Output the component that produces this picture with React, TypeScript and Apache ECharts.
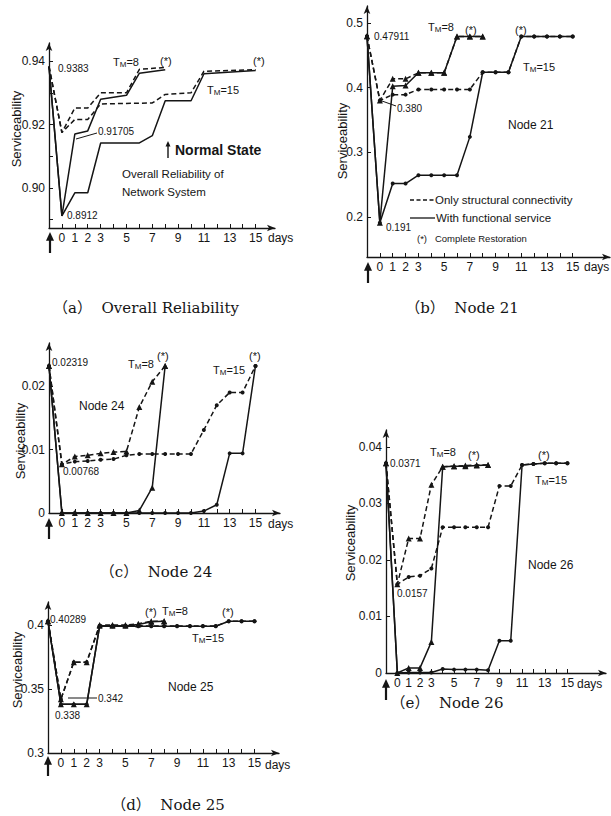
import { useEffect, useRef } from "react";
import * as echarts from "echarts";

// ---------- shared axis ticks ----------
const X_LABEL_DAYS = [0, 1, 2, 3, 5, 7, 9, 11, 13, 15];
const X_TICK_DAYS = [0, 1, 2, 3, 4, 5, 6, 7, 8, 9, 10, 11, 12, 13, 14, 15];

// ---------- (a) Overall Reliability ----------
const A_DAYS_8 = [-1, 0, 1, 2, 3, 5, 6, 8];
const A_STRUCT_8 = [0.9383, 0.9175, 0.9252, 0.9252, 0.93, 0.93, 0.9374, 0.938];
const A_FUNC_8 = [0.9383, 0.8912, 0.9170, 0.918, 0.9280, 0.9292, 0.9362, 0.9373];
const A_DAYS_15_S = [-1, 0, 1, 2, 3, 7, 8, 10, 11, 15];
const A_STRUCT_15 = [0.9383, 0.9175, 0.9216, 0.9216, 0.9265, 0.9268, 0.9295, 0.93, 0.9368, 0.9373];
const A_DAYS_15_F = [-1, 0, 1, 2, 3, 6, 7, 8, 10, 11, 15];
const A_FUNC_15 = [0.9383, 0.8912, 0.8985, 0.8985, 0.9142, 0.9142, 0.9165, 0.9275, 0.9275, 0.936, 0.937];
const A_Y_LABELS = [0.9, 0.92, 0.94];
const A_Y_TICKS = [0.89, 0.9, 0.91, 0.92, 0.93, 0.94];

// ---------- (b) Node 21 ----------
const B_DAYS_8 = [-1, 0, 1, 2, 3, 4, 5, 6, 7, 8];
const B_STRUCT_8 = [0.47911, 0.38, 0.4134, 0.4134, 0.4227, 0.4227, 0.4227, 0.479, 0.479, 0.479];
const B_FUNC_8 = [0.47911, 0.191, 0.402, 0.403, 0.4227, 0.4227, 0.4227, 0.479, 0.479, 0.479];
const B_DAYS_15 = [-1, 0, 1, 2, 3, 4, 5, 6, 7, 8, 9, 10, 11, 12, 13, 14, 15];
const B_STRUCT_15 = [0.47911, 0.38, 0.389, 0.389, 0.397, 0.397, 0.397, 0.397, 0.397, 0.4236, 0.4236, 0.4236, 0.479, 0.479, 0.479, 0.479, 0.479];
const B_FUNC_15 = [0.47911, 0.191, 0.2516, 0.2516, 0.2645, 0.2645, 0.2645, 0.2645, 0.3237, 0.4236, 0.4236, 0.4236, 0.479, 0.479, 0.479, 0.479, 0.479];
const B_Y_LABELS = [0.2, 0.3, 0.4, 0.5];

// ---------- (c) Node 24 ----------
const C_DAYS_8 = [-1, 0, 1, 2, 3, 4, 5, 6, 7, 8];
const C_STRUCT_8 = [0.02319, 0.00768, 0.0089, 0.0091, 0.0094, 0.0096, 0.0097, 0.0167, 0.0207, 0.02319];
const C_FUNC_8 = [0.02319, 0, 0, 0, 0, 0, 0, 0.0004, 0.004, 0.02319];
const C_DAYS_15 = [-1, 0, 1, 2, 3, 4, 5, 6, 7, 8, 9, 10, 11, 12, 13, 14, 15];
const C_STRUCT_15 = [0.02319, 0.00768, 0.0081, 0.0082, 0.0084, 0.0085, 0.0091, 0.0093, 0.0093, 0.0093, 0.0093, 0.0093, 0.0131, 0.017, 0.019, 0.019, 0.02319];
const C_FUNC_15 = [0.02319, 0, 0, 0, 0, 0, 0, 0, 0, 0, 0, 0, 0.0003, 0.0013, 0.0094, 0.0094, 0.02319];
const C_Y_LABELS = [0, 0.01, 0.02];

// ---------- (d) Node 25 ----------
const D_DAYS_8 = [-1, 0, 1, 2, 3, 4, 5, 6, 7, 8];
const D_STRUCT_8 = [0.40289, 0.342, 0.371, 0.371, 0.4, 0.4, 0.4, 0.401, 0.4029, 0.4029];
const D_FUNC_8 = [0.40289, 0.338, 0.338, 0.338, 0.3995, 0.3995, 0.3995, 0.4005, 0.4025, 0.4029];
const D_DAYS_15 = [-1, 0, 1, 2, 3, 4, 5, 6, 7, 8, 9, 10, 11, 12, 13, 14, 15];
const D_STRUCT_15 = [0.40289, 0.342, 0.371, 0.371, 0.3995, 0.3995, 0.3995, 0.3995, 0.3992, 0.3992, 0.3992, 0.3992, 0.3992, 0.3992, 0.4029, 0.4029, 0.4029];
const D_FUNC_15 = [0.40289, 0.338, 0.338, 0.338, 0.399, 0.399, 0.399, 0.399, 0.399, 0.399, 0.399, 0.399, 0.399, 0.399, 0.4029, 0.4029, 0.4029];
const D_Y_LABELS = [0.3, 0.35, 0.4];

// ---------- (e) Node 26 ----------
const E_DAYS_8 = [-1, 0, 1, 2, 3, 4, 5, 6, 7, 8];
const E_STRUCT_8 = [0.0371, 0.0157, 0.0238, 0.0238, 0.0333, 0.0365, 0.0366, 0.0367, 0.0368, 0.0368];
const E_FUNC_8 = [0.0371, 0, 0.0009, 0.0009, 0.0055, 0.0365, 0.0366, 0.0366, 0.0367, 0.0368];
const E_DAYS_15 = [-1, 0, 1, 2, 3, 4, 5, 6, 7, 8, 9, 10, 11, 12, 13, 14, 15];
const E_STRUCT_15 = [0.0371, 0.0157, 0.017, 0.0172, 0.0185, 0.0258, 0.0258, 0.0258, 0.0258, 0.0258, 0.0331, 0.0331, 0.0368, 0.037, 0.0371, 0.0371, 0.0371];
const E_FUNC_15 = [0.0371, 0, 0.0001, 0.0001, 0.0001, 0.0007, 0.0006, 0.0006, 0.0006, 0.0005, 0.0057, 0.0057, 0.0368, 0.037, 0.0371, 0.0371, 0.0371];
const E_Y_LABELS = [0, 0.01, 0.02, 0.03, 0.04];

const CAPTIONS = ["（a）  Overall Reliability", "（b）  Node 21", "（c）  Node 24", "（d）  Node 25", "（e）  Node 26"];

const INK = "#151515";
const SANS = "'Liberation Sans', Arial, 'DejaVu Sans', sans-serif";
const SERIF = "'DejaVu Serif', 'Noto Sans CJK JP', serif";

// layout of the five plot frames (pixels) and their axis ranges
const FRAMES = [
  { left: 49, top: 43, width: 226, height: 185, xMax: 16.5, yMin: 0.8874, yMax: 0.9457 },
  { left: 367, top: 6, width: 243, height: 251, xMax: 17.9, yMin: 0.138, yMax: 0.526 },
  { left: 49, top: 343, width: 231, height: 170, xMax: 16.9, yMin: 0, yMax: 0.0268 },
  { left: 48, top: 602, width: 231, height: 151, xMax: 16.9, yMin: 0.3, yMax: 0.418 },
  { left: 386, top: 430, width: 220, height: 243, xMax: 18.4, yMin: 0, yMax: 0.043 },
];

const Y_LABELS = [A_Y_LABELS, B_Y_LABELS, C_Y_LABELS, D_Y_LABELS, E_Y_LABELS];
const Y_TICKS = [A_Y_TICKS, B_Y_LABELS, C_Y_LABELS, D_Y_LABELS, E_Y_LABELS];
const Y_FMT = [
  (v: number) => v.toFixed(2),
  (v: number) => v.toFixed(1),
  (v: number) => (v === 0 ? "0" : v.toFixed(2)),
  (v: number) => (Math.abs(v - 0.35) < 1e-9 ? "0.35" : v.toFixed(1)),
  (v: number) => (v === 0 ? "0" : v.toFixed(2)),
];

function pairs(days: number[], vals: number[]) {
  return days.map((d, i) => [d, vals[i]]);
}

function line(g: number, days: number[], vals: number[], dashed: boolean, symbol: string) {
  return {
    type: "line",
    xAxisIndex: g,
    yAxisIndex: g,
    data: pairs(days, vals),
    symbol,
    symbolSize: symbol === "triangle" ? 6 : 4,
    showSymbol: symbol !== "none",
    itemStyle: { color: INK },
    lineStyle: { color: INK, width: 1.5, type: dashed ? [5, 3] : "solid" },
    z: dashed ? 3 : 4,
    silent: true,
  };
}

function txt(x: number, y: number, text: string, size = 10, extra: any = {}) {
  return {
    type: "text",
    x,
    y,
    silent: true,
    style: {
      text,
      fill: INK,
      fontSize: size,
      fontFamily: SANS,
      align: "left",
      verticalAlign: "middle",
      textAlign: "left",
      textVerticalAlign: "middle",
      ...extra,
    },
  };
}

function tm(x: number, y: number, n: number) {
  return {
    type: "text",
    x,
    y,
    silent: true,
    style: {
      text: `{t|T}{s|M}{t|=${n}}`,
      align: "left",
      verticalAlign: "middle",
      textAlign: "left",
      textVerticalAlign: "middle",
      rich: {
        t: { fontSize: 11, fontFamily: SANS, fill: INK },
        s: { fontSize: 8, fontFamily: SANS, fill: INK, padding: [5, 0, 0, 0] },
      },
    },
  };
}

function vtitle(x: number, y: number) {
  return {
    type: "text",
    x,
    y,
    rotation: Math.PI / 2,
    silent: true,
    style: {
      text: "Serviceability",
      fill: INK,
      fontSize: 13,
      fontFamily: SANS,
      align: "center",
      verticalAlign: "middle",
      textAlign: "center",
      textVerticalAlign: "middle",
    },
  };
}

function upArrow(x: number, yTop: number, yBot: number, w = 2.2, head = 4) {
  return [
    { type: "line", silent: true, shape: { x1: x, y1: yBot, x2: x, y2: yTop + head * 1.5 }, style: { stroke: INK, lineWidth: w } },
    {
      type: "polygon",
      silent: true,
      shape: { points: [[x, yTop], [x - head, yTop + head * 2.2], [x + head, yTop + head * 2.2]] },
      style: { fill: INK },
    },
  ];
}

function seg(x1: number, y1: number, x2: number, y2: number, dash: number[] | null = null, w = 1) {
  return {
    type: "line",
    silent: true,
    shape: { x1, y1, x2, y2 },
    style: { stroke: INK, lineWidth: w, lineDash: dash || undefined },
  };
}

function caption(cx: number, cy: number, text: string) {
  return {
    type: "text",
    x: cx,
    y: cy,
    silent: true,
    style: {
      text,
      fill: INK,
      fontSize: 15,
      fontFamily: SERIF,
      align: "center",
      verticalAlign: "middle",
      textAlign: "center",
      textVerticalAlign: "middle",
    },
  };
}

function buildOption() {
  const grid = FRAMES.map((f) => ({ left: f.left, top: f.top, width: f.width, height: f.height, containLabel: false }));
  const xAxis = FRAMES.map((f, i) => ({
    type: "value",
    gridIndex: i,
    min: -1,
    max: f.xMax,
    splitLine: { show: false },
    axisLine: { onZero: false, lineStyle: { color: INK, width: 1.3 }, symbol: ["none", "arrow"], symbolSize: [5, 8] },
    axisTick: { show: true, inside: true, length: 4, lineStyle: { color: INK }, customValues: X_TICK_DAYS },
    axisLabel: {
      color: INK,
      fontSize: 12,
      fontFamily: SANS,
      margin: 4,
      customValues: X_LABEL_DAYS,
      formatter: (v: number) => String(v),
    },
  }));
  const yAxis = FRAMES.map((f, i) => ({
    type: "value",
    gridIndex: i,
    min: f.yMin,
    max: f.yMax,
    splitLine: { show: false },
    axisLine: { onZero: false, lineStyle: { color: INK, width: 1.3 }, symbol: ["none", "arrow"], symbolSize: [5, 8] },
    axisTick: { show: true, inside: true, length: 4, lineStyle: { color: INK }, customValues: Y_TICKS[i] },
    axisLabel: {
      color: INK,
      fontSize: 12,
      fontFamily: SANS,
      margin: 4,
      customValues: Y_LABELS[i],
      formatter: Y_FMT[i],
    },
  }));

  const series = [
    line(0, A_DAYS_8, A_STRUCT_8, true, "none"),
    line(0, A_DAYS_8, A_FUNC_8, false, "none"),
    line(0, A_DAYS_15_S, A_STRUCT_15, true, "none"),
    line(0, A_DAYS_15_F, A_FUNC_15, false, "none"),

    line(1, B_DAYS_8, B_STRUCT_8, true, "triangle"),
    line(1, B_DAYS_8, B_FUNC_8, false, "triangle"),
    line(1, B_DAYS_15, B_STRUCT_15, true, "circle"),
    line(1, B_DAYS_15, B_FUNC_15, false, "circle"),

    line(2, C_DAYS_8, C_STRUCT_8, true, "triangle"),
    line(2, C_DAYS_8, C_FUNC_8, false, "triangle"),
    line(2, C_DAYS_15, C_STRUCT_15, true, "circle"),
    line(2, C_DAYS_15, C_FUNC_15, false, "circle"),

    line(3, D_DAYS_8, D_STRUCT_8, true, "triangle"),
    line(3, D_DAYS_8, D_FUNC_8, false, "triangle"),
    line(3, D_DAYS_15, D_STRUCT_15, true, "circle"),
    line(3, D_DAYS_15, D_FUNC_15, false, "circle"),

    line(4, E_DAYS_8, E_STRUCT_8, true, "triangle"),
    line(4, E_DAYS_8, E_FUNC_8, false, "triangle"),
    line(4, E_DAYS_15, E_STRUCT_15, true, "circle"),
    line(4, E_DAYS_15, E_FUNC_15, false, "circle"),
  ];

  const g: any[] = [];
  // y-axis titles
  g.push(vtitle(16, 129), vtitle(342, 141), vtitle(20, 441), vtitle(17, 670), vtitle(350, 543));
  // "days"
  g.push(txt(268, 238, "days", 12), txt(584, 267, "days", 12), txt(268, 524, "days", 12), txt(265, 765, "days", 12), txt(577, 684, "days", 12));
  // event arrows under the origin
  g.push(...upArrow(50, 232, 253), ...upArrow(368, 262, 283), ...upArrow(49, 518, 539), ...upArrow(48, 756, 776), ...upArrow(386, 679, 700));
  // captions
  g.push(caption(146, 308, CAPTIONS[0]), caption(462, 308, CAPTIONS[1]), caption(156, 572, CAPTIONS[2]), caption(168, 805, CAPTIONS[3]), caption(447, 703, CAPTIONS[4]));

  // (a)
  g.push(txt(58, 68, "0.9383"), tm(113, 62, 8), txt(160, 61, "(*)", 11), txt(253, 61, "(*)", 11), tm(207, 90, 15));
  g.push(txt(98, 131, "0.91705"), seg(97, 133, 76, 139));
  g.push(...upArrow(168, 141, 158, 1.4, 2.5), txt(175, 150, "Normal State", 14, { fontWeight: "bold" }));
  g.push(txt(122, 174, "Overall Reliability of", 11.5), txt(122, 192, "Network System", 11.5));
  g.push(txt(67, 215, "0.8912"));

  // (b)
  g.push(txt(374, 36, "0.47911"), tm(428, 27, 8), txt(465, 30, "(*)", 11), txt(515, 30, "(*)", 11), tm(523, 67, 15));
  g.push(txt(397, 108, "0.380"), seg(396, 106, 382, 101));
  g.push(txt(508, 125, "Node 21", 12));
  g.push(txt(386, 227, "0.191"));
  g.push(seg(410, 200, 434, 200, [4, 2.5], 1.3), txt(435, 200, "Only structural connectivity", 11.5));
  g.push(seg(410, 218, 435, 218, null, 1.3), txt(436, 218, "With functional service", 11.5));
  g.push(txt(417, 238, "(*)   Complete Restoration", 9.5));

  // (c)
  g.push(txt(52, 362, "0.02319"), tm(128, 364, 8), txt(157, 356, "(*)", 11), tm(213, 370, 15), txt(249, 356, "(*)", 11));
  g.push(txt(79, 406, "Node 24", 12), txt(63, 471, "0.00768"));

  // (d)
  g.push(txt(50, 619, "0.40289"), txt(145, 612, "(*)", 11), tm(162, 611, 8), txt(222, 612, "(*)", 11), tm(192, 638, 15));
  g.push(txt(168, 687, "Node 25", 12));
  g.push(txt(98, 698, "0.342"), seg(97, 698, 68, 698));
  g.push(txt(55, 715, "0.338"));

  // (e)
  g.push(txt(390, 463, "0.0371"), tm(430, 452, 8), txt(468, 455, "(*)", 11), txt(538, 455, "(*)", 11), tm(535, 480, 15));
  g.push(txt(528, 565, "Node 26", 12), txt(397, 593, "0.0157"));

  return {
    animation: false,
    backgroundColor: "#ffffff",
    grid,
    xAxis,
    yAxis,
    series,
    graphic: { elements: g },
  };
}

export default function App() {
  const ref = useRef<HTMLDivElement>(null);
  useEffect(() => {
    if (!ref.current) return;
    const chart = echarts.init(ref.current, undefined, { renderer: "svg" });
    chart.setOption(buildOption() as any);
    return () => chart.dispose();
  }, []);
  return <div ref={ref} style={{ position: "fixed", left: 0, top: 0, width: 611, height: 816, background: "#fff" }} />;
}
